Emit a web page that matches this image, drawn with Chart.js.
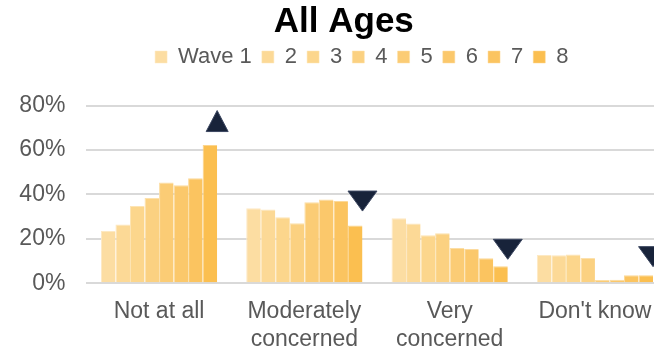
<!DOCTYPE html>
<html>
<head>
<meta charset="utf-8">
<script src="https://cdn.jsdelivr.net/npm/chart.js@4.4.1/dist/chart.umd.min.js"></script>
<style>
  html, body { margin: 0; padding: 0; background: #ffffff; overflow: hidden; }
  #wrap { position: relative; width: 680px; height: 352px; }
</style>
</head>
<body>
<div id="wrap"><canvas id="chart"></canvas></div>
<script>
// Level of concern, share of respondents per wave (%)
const categories = ['Not at all', ['Moderately', 'concerned'], ['Very', 'concerned'], "Don't know"];
const waveLabels = ['Wave 1', '2', '3', '4', '5', '6', '7', '8'];

const wave1 = [23.5, 33.8, 29.3, 12.7];
const wave2 = [26.5, 33.2, 26.9, 12.6];
const wave3 = [34.8, 29.7, 21.6, 13.0];
const wave4 = [38.4, 27.0, 22.5, 11.4];
const wave5 = [45.3, 36.5, 15.9, 1.5];
const wave6 = [44.1, 37.7, 15.4, 1.6];
const wave7 = [47.3, 37.0, 11.3, 3.6];
const wave8 = [62.2, 26.0, 7.7, 3.6];
const waveSeries = [wave1, wave2, wave3, wave4, wave5, wave6, wave7, wave8];

// Change from wave 1 to wave 8: direction and height of the arrow marker
const changeDirection = ['up', 'down', 'down', 'down'];
const changeMarkerLevel = [73, 37, 15.3, 12];

const yTicks = [0, 20, 40, 60, 80];

const waveColors = ['#FCDDA2', '#FCD996', '#FCD68C', '#FBD181', '#FBCC75', '#FBC86B', '#FBC460', '#FBBF50'];
const textGrey = '#595959';
const fontFamily = '"Liberation Sans", Arial, Helvetica, sans-serif';

// Opaque lighter tint of a hex colour, used for the thin bar outlines
function tint(hex, amount) {
  const n = parseInt(hex.slice(1), 16);
  const ch = [(n >> 16) & 255, (n >> 8) & 255, n & 255].map(c => Math.round(c + (255 - c) * amount));
  return `rgb(${ch[0]},${ch[1]},${ch[2]})`;
}

const datasets = waveSeries.map((values, i) => ({
  label: waveLabels[i],
  data: values,
  backgroundColor: waveColors[i],
  borderColor: tint(waveColors[i], 0.35),
  borderWidth: { top: 1, left: 1, right: 0, bottom: 0 },
  categoryPercentage: 0.8,
  barPercentage: 1.0
}));

// Arrow markers placed at the right edge of each category's last bar
const changeMarkers = {
  id: 'changeMarkers',
  afterDatasetsDraw(chart) {
    const meta = chart.getDatasetMeta(waveSeries.length - 1);
    const yScale = chart.scales.y;
    const ctx = chart.ctx;
    ctx.save();
    changeMarkerLevel.forEach((level, i) => {
      const bar = meta.data[i];
      if (!bar) return;
      const cx = bar.x + bar.width / 2;
      const cy = yScale.getPixelForValue(level);
      const up = changeDirection[i] === 'up';
      const w = up ? 22 : 29;
      const h = up ? 21 : 20;
      ctx.beginPath();
      if (up) {
        ctx.moveTo(cx, cy - h / 2);
        ctx.lineTo(cx + w / 2, cy + h / 2);
        ctx.lineTo(cx - w / 2, cy + h / 2);
      } else {
        ctx.moveTo(cx - w / 2, cy - h / 2);
        ctx.lineTo(cx + w / 2, cy - h / 2);
        ctx.lineTo(cx, cy + h / 2);
      }
      ctx.closePath();
      ctx.fillStyle = '#18233A';
      ctx.fill();
      ctx.lineWidth = 1;
      ctx.strokeStyle = '#3B4660';
      ctx.stroke();
    });
    ctx.restore();
  }
};

const titleShift = 10;
const legendShift = 28;
const legendGapBelow = 27.5;

const headerLayout = {
  id: 'headerLayout',
  beforeLayout(chart) {
    const lg = chart.legend;
    if (lg && !lg.__gapAdded) {
      const fit = lg.fit;
      lg.fit = function () { fit.call(this); this.height += legendGapBelow; };
      lg.__gapAdded = true;
    }
  },
  afterLayout(chart) {
    const t = chart.titleBlock;
    if (t) { t.left += titleShift; t.right += titleShift; }
    const lg = chart.legend;
    if (lg) { lg.left += legendShift; lg.right += legendShift; }
  }
};

new Chart(document.getElementById('chart'), {
  type: 'bar',
  data: { labels: categories, datasets },
  options: {
    responsive: true,
    maintainAspectRatio: false,
    animation: false,
    events: [],
    layout: { padding: { left: 0, right: 12.4, top: 0, bottom: 0 } },
    plugins: {
      title: {
        display: true,
        text: 'All Ages',
        color: '#000000',
        font: { family: fontFamily, size: 35, weight: 'bold', lineHeight: 1 },
        padding: { top: 5, bottom: -4 }
      },
      legend: {
        display: true,
        position: 'top',
        labels: {
          color: textGrey,
          font: { family: fontFamily, size: 22 },
          boxWidth: 12,
          boxHeight: 12,
          padding: 10
        }
      },
      tooltip: { enabled: false }
    },
    scales: {
      x: {
        grid: { display: false, drawTicks: false },
        border: { display: false },
        ticks: {
          color: textGrey,
          font: { family: fontFamily, size: 23, lineHeight: 1.2 },
          padding: 15,
          maxRotation: 0,
          autoSkip: false
        },
        afterFit(scale) { scale.height = 68.7; }
      },
      y: {
        min: 0,
        max: 80,
        afterBuildTicks(scale) { scale.ticks = yTicks.map(v => ({ value: v })); },
        grid: { color: '#D9D9D9', lineWidth: 2, drawTicks: false },
        border: { display: false },
        ticks: {
          color: textGrey,
          font: { family: fontFamily, size: 23 },
          padding: 21,
          callback: v => v + '%'
        },
        afterFit(scale) { scale.width = 86.4; }
      }
    }
  },
  plugins: [headerLayout, changeMarkers]
});
</script>
</body>
</html>
